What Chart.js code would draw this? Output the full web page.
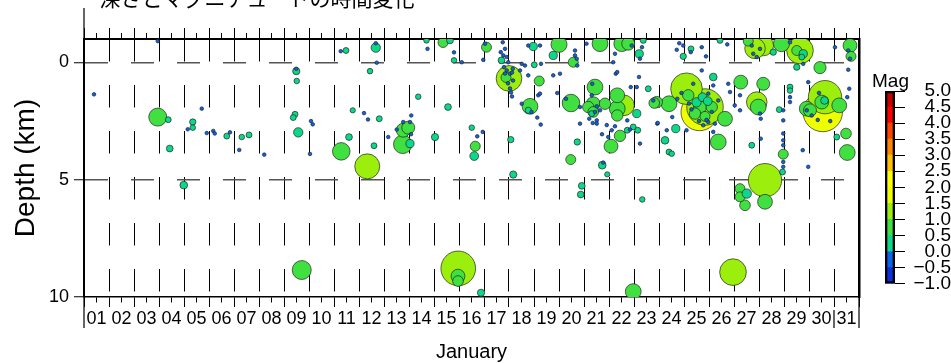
<!DOCTYPE html>
<html>
<head>
<meta charset="utf-8">
<script src="https://cdn.jsdelivr.net/npm/chart.js@4.4.1/dist/chart.umd.min.js"></script>
<style>
  html, body { margin: 0; padding: 0; background: #fff; overflow: hidden; }
  #wrap { position: relative; width: 951px; height: 363px; }
  #quakeChart { position: absolute; left: 0; top: 0; }
  #magBar { position: absolute; left: 860px; top: 60px; }
</style>
</head>
<body>
<div id="wrap">
  <canvas id="quakeChart" width="951" height="363"></canvas>
  <canvas id="magBar" width="91" height="240"></canvas>
</div>
<script>
// Texts
var chartTitle = '深さとマグニチュードの時間変化';
var xTitle = 'January';
var yTitle = 'Depth (km)';
var magTitle = 'Mag';

// Tick labels
var dayLabels = ['01', '02', '03', '04', '05', '06', '07', '08', '09', '10',
                 '11', '12', '13', '14', '15', '16', '17', '18', '19', '20',
                 '21', '22', '23', '24', '25', '26', '27', '28', '29', '30', '31'];
var depthTicks = [0, 5, 10];
var magTicks = [-1.0, -0.5, 0.0, 0.5, 1.0, 1.5, 2.0, 2.5, 3.0, 3.5, 4.0, 4.5, 5.0];

// Events: day of January (fractional), depth (km), magnitude
var eventDay = [
  1.40, 3.95, 3.95, 4.37, 5.35, 5.35, 5.15, 4.43, 4.99, 5.71,
  5.91, 6.17, 6.23, 6.71, 6.84, 7.31, 7.60, 7.21, 8.21, 9.49,
  9.49, 9.51, 9.44, 9.37, 9.57, 10.08, 10.15, 10.04, 9.71, 11.27,
  11.48, 12.67, 12.67, 12.71, 12.44, 11.29, 12.33, 11.60, 11.75, 12.20,
  12.36, 12.81, 12.60, 14.37, 14.09, 13.77, 14.04, 13.97, 13.77, 13.75,
  14.04, 13.51, 13.17, 14.08, 15.04, 14.74, 14.70, 15.56, 15.36, 15.64,
  15.80, 15.80, 16.11, 17.10, 17.04, 16.97, 16.51, 16.73, 16.95, 16.65,
  16.61, 15.97, 15.96, 15.96, 16.88, 17.75, 17.84, 17.67, 17.77, 17.91,
  17.70, 17.97, 17.80, 17.91, 18.04, 18.15, 18.00, 17.88, 17.84, 18.12,
  17.96, 18.16, 18.04, 18.08, 18.12, 18.44, 18.51, 18.64, 18.77, 18.77,
  18.97, 19.24, 19.01, 19.28, 18.51, 18.84, 18.77, 18.90, 19.13, 19.17,
  19.24, 19.21, 19.77, 20.04, 19.93, 20.48, 20.28, 19.77, 20.00, 18.07,
  18.17, 19.27, 20.57, 20.64, 20.64, 20.71, 20.73, 21.10, 21.44, 21.33,
  21.17, 21.37, 21.84, 21.37, 21.44, 21.64, 21.51, 21.21, 21.51, 21.31,
  21.64, 22.24, 22.17, 22.51, 22.77, 22.91, 23.21, 23.24, 23.32, 23.37,
  22.27, 22.33, 22.33, 22.60, 22.33, 22.33, 23.11, 23.81, 22.44, 23.20,
  22.87, 22.73, 20.84, 21.51, 20.84, 21.31, 21.97, 22.73, 23.57, 20.47,
  20.73, 20.91, 20.87, 21.73, 21.77, 21.93, 22.08, 21.72, 21.91, 22.24,
  22.11, 21.35, 22.84, 22.97, 23.15, 23.24, 23.33, 23.93, 22.97, 23.11,
  23.77, 24.81, 24.97, 24.71, 25.28, 25.71, 25.88, 24.97, 25.27, 26.44,
  26.73, 25.10, 25.84, 25.62, 24.40, 23.91, 25.17, 26.64, 26.37, 27.27,
  28.17, 27.97, 27.91, 25.64, 25.44, 26.11, 24.67, 24.24, 26.17, 23.95,
  24.31, 24.53, 24.73, 25.10, 25.37, 25.71, 26.17, 26.24, 26.17, 26.77,
  26.84, 27.24, 27.03, 27.24, 28.04, 28.07, 28.07, 27.71, 24.40, 25.97,
  24.51, 26.37, 26.11, 25.97, 25.77, 26.96, 28.24, 27.24, 27.51, 27.44,
  27.24, 28.24, 25.74, 27.57, 28.17, 27.84, 27.77, 27.91, 28.04, 27.71,
  28.57, 29.24, 29.64, 29.51, 29.77, 29.71, 29.77, 29.51, 30.44, 31.04,
  31.57, 31.64, 31.57, 31.64, 31.68, 28.90, 29.24, 29.24, 29.24, 29.24,
  28.97, 28.97, 28.97, 28.97, 28.97, 28.97, 28.97, 28.97, 28.94, 28.81,
  29.97, 29.91, 29.75, 29.97, 31.61, 31.53, 30.55, 30.64, 30.51, 31.21,
  29.91, 30.04, 30.11, 31.48, 31.11, 31.53, 30.62, 30.35, 30.85, 30.40,
  25.84, 25.50, 25.95, 25.30, 25.60, 25.90, 24.90, 25.20
];
var eventDepth = [
  1.36, -0.91, 2.33, 2.44, 2.54, 2.78, 2.85, 3.67, 5.23, 1.97,
  3.01, 2.92, 3.03, 3.14, 2.98, 3.18, 3.09, 3.73, 3.93, 0.37,
  0.27, 0.79, 2.21, 2.35, 2.98, 2.50, 2.64, 3.90, 8.85, -0.48,
  -0.51, -0.63, -0.82, 0.01, 0.37, 3.79, 4.43, 3.18, 2.04, 2.16,
  2.43, 2.40, 3.55, 1.46, 2.26, 2.54, 2.54, 2.78, 2.89, 3.49,
  3.46, 2.86, 3.18, 3.06, 3.18, -0.58, -0.94, 1.90, -0.85, -0.94,
  -0.43, -0.09, -0.01, -0.65, -0.80, -0.11, 2.78, 3.15, 2.96, 3.57,
  3.99, 8.78, 9.11, 9.32, 9.82, -0.86, -0.58, -0.44, -0.30, -0.23,
  -0.09, -0.01, 0.20, 0.34, 0.48, 0.27, 0.68, 0.64, 0.47, 0.43,
  0.89, 0.77, 1.11, 1.28, 1.45, 0.34, 0.06, 0.13, 0.55, -0.72,
  -0.68, -0.72, 0.10, 0.06, 1.76, 1.87, 2.04, 2.11, 2.35, 1.40,
  1.33, 0.79, 0.55, 0.48, 1.30, 1.73, 1.55, -0.30, -0.77, 3.29,
  4.78, 2.65, -0.01, -0.30, -0.51, -0.16, 0.13, -0.80, 1.05, 0.91,
  1.90, 1.76, 1.76, 2.11, 2.11, 2.04, 1.87, 2.40, 2.47, 2.18,
  -0.80, -0.37, -0.01, -0.80, -0.80, -0.72, -0.37, -0.16, -0.65, -0.94,
  0.48, 0.41, 1.40, 1.83, 1.97, 2.26, 2.18, 1.73, 3.13, 0.62,
  1.05, 2.47, 2.61, 2.61, 1.90, 1.40, 3.18, 2.89, 1.12, 4.14,
  3.39, 5.26, 5.63, 4.38, 4.27, 4.77, 3.57, 3.06, 2.67, 2.72,
  2.89, 2.58, 2.86, 2.75, 2.89, 3.46, 5.84, 2.61, 9.77, 1.05,
  1.62, -0.82, -0.72, -0.54, -0.58, -0.65, -0.26, -0.26, -0.44, -0.94,
  -0.77, 1.12, 1.90, 2.12, 1.76, 1.69, 1.40, 2.40, 3.39, 0.84,
  0.91, 1.90, 1.69, 1.90, 2.18, 1.90, 2.82, 3.32, 0.62, 2.58,
  2.89, 2.33, 1.55, 2.89, 0.91, 0.34, 0.98, 2.61, 2.96, 0.91,
  1.26, 1.40, 1.83, 2.04, 2.18, 2.40, 3.25, 3.53, 3.82, 1.33,
  3.89, 1.62, 2.11, 2.54, 2.68, 8.94, 5.02, 5.38, 5.59, 6.09,
  5.73, 5.94, 1.48, -0.91, -0.72, -0.60, -0.37, -0.23, -0.58, -0.72,
  -0.44, -0.86, -0.51, -0.51, -0.37, -0.23, 0.06, 0.20, 0.22, -0.65,
  -0.51, -0.16, 0.31, -0.72, -0.26, -0.80, 1.05, 1.20, 1.48, 1.69,
  2.04, 2.47, 3.03, 3.32, 3.53, 3.91, 4.24, 4.45, 4.67, 2.01,
  0.84, 2.04, 3.74, 4.45, 1.12, 1.48, 2.11, 1.48, 1.69, 1.83,
  1.97, 2.04, 2.26, 3.03, 3.18, 3.84, 1.62, 2.45, 2.50, 1.30,
  2.30, 1.70, 1.65, 2.00, 2.50, 2.45, 1.30, 1.75
];
var eventMag = [
  -0.3, -0.3, 0.95, 0.1, 0.15, 0.05, -0.3, 0.2, 0.3, -0.3,
  -0.3, -0.3, -0.3, 0.1, -0.3, 0.05, 0.1, -0.3, -0.3, 0.25,
  -0.3, 0.05, 0.1, 0.1, 0.45, -0.3, -0.3, -0.3, 0.99, -0.3,
  0.1, 0.45, -0.3, -0.3, 0.05, 0.93, 1.2, 0.2, 0.0, -0.3,
  -0.3, 0.1, 0.1, 0.05, -0.3, -0.3, -0.3, 0.7, 0.75, 0.97,
  0.35, -0.3, -0.3, -0.3, 0.25, -0.3, 0.05, 0.2, 0.5, 0.2,
  -0.3, 0.05, -0.3, 0.5, -0.3, -0.3, 0.05, -0.3, -0.3, 0.5,
  0.4, 1.45, 0.75, 0.55, 0.25, -0.3, -0.3, -0.3, -0.3, -0.3,
  0.2, -0.3, -0.3, -0.3, -0.3, -0.3, 1.22, 0.5, -0.3, -0.3,
  -0.3, -0.3, -0.3, -0.3, -0.3, -0.3, -0.3, -0.3, -0.3, -0.3,
  0.35, -0.3, 0.1, -0.3, -0.3, 0.85, 0.15, -0.3, -0.3, -0.3,
  -0.3, 0.5, -0.3, -0.3, -0.3, 0.93, -0.3, 0.35, 0.86, 0.15,
  0.25, -0.3, 0.5, -0.3, -0.3, -0.3, -0.3, -0.3, 0.85, -0.3,
  0.6, 0.75, 0.6, 0.55, -0.3, -0.3, -0.3, -0.3, -0.3, 0.1,
  0.85, -0.3, -0.3, 0.85, 0.7, -0.3, 0.35, -0.3, -0.3, 0.1,
  -0.3, -0.3, 0.8, 1.05, 0.85, 0.6, 0.35, 0.55, 0.6, -0.3,
  -0.3, -0.3, -0.3, -0.3, -0.3, -0.3, -0.3, 0.1, 0.1, 0.5,
  0.15, 0.2, 0.2, 0.3, -0.3, 0.0, 0.75, -0.3, -0.3, -0.3,
  -0.3, -0.3, -0.3, 0.1, 0.1, -0.3, 0.05, -0.3, 0.85, -0.3,
  -0.3, -0.3, -0.3, -0.3, 0.1, -0.3, -0.3, 0.15, -0.3, 0.1,
  -0.3, 1.38, 1.49, 1.50, 0.85, 0.6, 0.6, 0.8, 0.85, 0.75,
  0.7, 0.85, 1.05, 0.7, 0.6, 0.6, 0.35, 0.3, 0.3, -0.3,
  -0.3, -0.3, -0.3, -0.3, -0.3, -0.3, -0.3, -0.3, -0.3, -0.3,
  -0.3, -0.3, -0.3, -0.3, -0.3, -0.3, -0.3, 0.1, 0.1, -0.3,
  0.05, -0.3, -0.3, -0.3, -0.3, 1.25, 1.42, 0.5, 0.45, 0.55,
  0.5, 0.8, 0.4, 0.5, 1.05, 1.05, -0.3, -0.3, -0.3, -0.3,
  0.15, -0.3, 1.25, 0.5, 0.35, 0.1, -0.3, 0.15, 0.65, -0.3,
  -0.3, -0.3, -0.3, 0.75, 0.5, 0.86, 0.1, 0.05, -0.3, -0.3,
  -0.3, -0.3, -0.3, -0.3, -0.3, 0.5, -0.3, -0.3, 0.1, 0.1,
  -0.3, -0.3, -0.3, -0.3, -0.3, -0.3, 1.55, 1.42, 0.75, 0.8,
  0.8, 0.7, -0.3, 0.55, 0.1, 0.85, 0.3, -0.3, -0.3, -0.3,
  0.5, 0.45, 0.4, -0.3, -0.3, -0.3, -0.3, -0.3
];

// One colour per 0.5 magnitude band, from -1.0 upwards
var bandColors = ['#0a30de', '#0a64ea', '#0cd88a', '#40e040', '#9cef0c', '#eeff00',
                  '#ffff00', '#ffc000', '#ff8400', '#ff4400', '#ff0000', '#c80000'];

function bandIndex(m) {
  for (var i = magTicks.length - 2; i >= 0; i--) {
    if (m >= magTicks[i]) return i;
  }
  return 0;
}
function magColor(m) { return bandColors[bandIndex(m)]; }
function magRadius(m) { return Math.max(1.8, 2.6 * Math.pow(3.7, m)); }
function magLabel(v) { return v.toFixed(1).replace('-', '\u2212'); }
function isWholeDay(ctx) { return ctx.tick && Number.isInteger(ctx.tick.value); }
function halfDayTicks(scale) {
  var t = [];
  for (var v = 1; v <= dayLabels.length + 1; v += 0.5) t.push({value: v});
  scale.ticks = t;
}

Chart.defaults.font.family = '"Liberation Sans", Arial, Helvetica, sans-serif';
Chart.defaults.color = '#000';

// big quakes first, so the small ones stay visible on top
var points = eventDay.map(function (d, i) {
  return {x: d, y: eventDepth[i], mag: eventMag[i]};
});
points.sort(function (a, b) { return b.mag - a.mag; });

var cutTitle = {
  id: 'cutTitle',
  afterDraw: function (chart) {
    var ctx = chart.ctx;
    ctx.save();
    ctx.font = '21px "Noto Sans CJK JP", sans-serif';
    ctx.fillStyle = '#000';
    ctx.textAlign = 'center';
    ctx.textBaseline = 'alphabetic';
    ctx.fillText(chartTitle, 257, 6);
    ctx.restore();
  }
};

var frameLines = {
  id: 'frameLines',
  afterDraw: function (chart) {
    var ctx = chart.ctx, a = chart.chartArea, x = chart.scales.x;
    var last = x.getPixelForValue(dayLabels.length);
    ctx.save();
    ctx.strokeStyle = '#000';
    ctx.lineWidth = 1.2;
    ctx.beginPath();
    ctx.moveTo(a.left, 8); ctx.lineTo(a.left, a.bottom + 31);
    ctx.moveTo(a.right, a.bottom); ctx.lineTo(a.right, a.bottom + 31);
    ctx.moveTo(last, a.bottom + 13); ctx.lineTo(last, a.bottom + 31);
    ctx.stroke();
    ctx.restore();
  }
};

var quakeChart = new Chart(document.getElementById('quakeChart'), {
  type: 'scatter',
  data: {
    datasets: [{
      data: points,
      clip: 0,
      pointRadius: function (ctx) { return magRadius(ctx.raw.mag); },
      pointBackgroundColor: function (ctx) { return magColor(ctx.raw.mag); },
      pointBorderColor: 'rgba(30,30,30,0.85)',
      pointBorderWidth: 0.8
    }]
  },
  options: {
    responsive: false,
    animation: false,
    layout: {padding: 0},
    plugins: {legend: {display: false}, tooltip: {enabled: false}},
    scales: {
      x: {
        type: 'linear', position: 'bottom', min: 1, max: dayLabels.length + 1, z: 1,
        afterBuildTicks: halfDayTicks,
        afterFit: function (s) { s.height = 66; },
        ticks: {
          autoSkip: false, maxRotation: 0, minRotation: 0, labelOffset: 12.5, padding: 1,
          font: {size: 18},
          callback: function (v) {
            return Number.isInteger(v) && v <= dayLabels.length ? dayLabels[v - 1] : '';
          }
        },
        grid: {
          color: function (ctx) {
            var v = ctx.tick ? ctx.tick.value : 0;
            return Number.isInteger(v) && v > 1 && v < dayLabels.length + 1 ? '#000' : 'rgba(0,0,0,0)';
          },
          lineWidth: 1, tickLength: 10, tickColor: '#000', tickWidth: 1,
          tickBorderDash: function (ctx) { return isWholeDay(ctx) ? [] : [5, 20]; }
        },
        border: {color: '#000', width: 1.5, dash: [22.5, 23.5]},
        title: {display: true, text: xTitle, font: {size: 20, lineHeight: 1}, padding: {top: 0, bottom: 1}}
      },
      xTop: {
        type: 'linear', position: 'top', min: 1, max: dayLabels.length + 1,
        afterBuildTicks: halfDayTicks,
        afterFit: function (s) { s.height = 39; },
        ticks: {display: false},
        grid: {
          drawOnChartArea: false, tickLength: 11, tickColor: '#000', tickWidth: 1,
          tickBorderDash: function (ctx) { return isWholeDay(ctx) ? [] : [0, 5, 6, 20]; }
        },
        border: {color: '#000', width: 2}
      },
      y: {
        type: 'linear', position: 'left', reverse: true, min: -1, max: 10, z: 1,
        afterBuildTicks: function (s) {
          s.ticks = depthTicks.map(function (v) { return {value: v}; });
        },
        afterFit: function (s) { s.width = 84; },
        ticks: {padding: 5, font: {size: 18}},
        grid: {
          color: function (ctx) {
            var v = ctx.tick ? ctx.tick.value : 10;
            return v > -1 && v < 10 ? '#555' : 'rgba(0,0,0,0)';
          },
          lineWidth: 1.5, tickLength: 10, tickColor: '#000', tickWidth: 1
        },
        border: {color: '#000', width: 2, dash: [23, 23]},
        title: {display: true, text: yTitle, font: {size: 28, lineHeight: 1}, padding: {top: 12, bottom: 0}}
      },
      yRight: {
        type: 'linear', position: 'right', reverse: true, min: -1, max: 10,
        afterFit: function (s) { s.width = 92; },
        ticks: {display: false},
        grid: {display: false},
        border: {color: '#000', width: 2.5}
      }
    }
  },
  plugins: [cutTitle, frameLines]
});

// Colour scale
var bandSets = bandColors.map(function (c, i) {
  return {data: [[magTicks[i], magTicks[i + 1]]], backgroundColor: c, borderWidth: 0, order: 1};
});
bandSets.unshift({
  data: [[magTicks[0], magTicks[magTicks.length - 1]]],
  backgroundColor: 'rgba(0,0,0,0)', borderColor: '#000', borderWidth: 2, borderSkipped: false, order: 0
});

var magBar = new Chart(document.getElementById('magBar'), {
  type: 'bar',
  data: {labels: [''], datasets: bandSets},
  options: {
    responsive: false,
    animation: false,
    layout: {padding: {left: 12, bottom: 12, top: 0, right: 0}},
    plugins: {
      legend: {display: false},
      tooltip: {enabled: false},
      title: {display: true, text: magTitle, align: 'start', color: '#000',
              font: {size: 19, weight: 'normal', lineHeight: 1}, padding: {top: 12, bottom: 0}}
    },
    datasets: {bar: {grouped: false, barPercentage: 1, categoryPercentage: 1}},
    scales: {
      x: {display: false},
      pad: {
        axis: 'y', position: 'left', display: true,
        afterFit: function (s) { s.width = 13; },
        ticks: {display: false},
        grid: {display: false},
        border: {display: false}
      },
      y: {
        type: 'linear', position: 'right', min: magTicks[0], max: magTicks[magTicks.length - 1],
        afterBuildTicks: function (s) {
          s.ticks = magTicks.map(function (v) { return {value: v}; });
        },
        afterFit: function (s) { s.width = 56; },
        ticks: {autoSkip: false, crossAlign: 'far', padding: 5, font: {size: 19}, callback: magLabel},
        grid: {drawOnChartArea: false, tickLength: 10, tickColor: '#000', tickWidth: 1},
        border: {display: false}
      }
    }
  }
});
</script>
</body>
</html>
